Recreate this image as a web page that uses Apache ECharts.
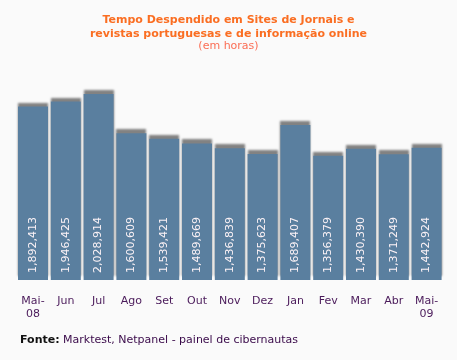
<!DOCTYPE html>
<html><head><meta charset="utf-8">
<script src="https://cdn.jsdelivr.net/npm/echarts@6/dist/echarts.min.js"></script>
<style>html,body{margin:0;padding:0;background:#fafafa}#c{width:457px;height:360px}</style>
</head><body><div id="c"></div>
<script>
const categories = ['Mai-\n08','Jun','Jul','Ago','Set','Out','Nov','Dez','Jan','Fev','Mar','Abr','Mai-\n09'];
const values = [1892413,1946425,2028914,1600609,1539421,1489669,1436839,1375623,1689407,1356379,1430390,1371249,1442924];
const titleLines = ['Tempo Despendido em Sites de Jornais e','revistas portuguesas e de informação online'];
const subtitle = '(em horas)';
const source = ['Fonte:', ' Marktest, Netpanel - painel de cibernautas'];

const chart = echarts.init(document.getElementById('c'), null, {renderer:'canvas'});
const fmt = v => v.toString().replace(/\B(?=(\d{3})+(?!\d))/g, ',');
chart.setOption({
  backgroundColor:'#fafafa',
  animation:false,
  title:{
    left:'center', top:8, itemGap:-1,
    text: titleLines.join('\n'),
    textStyle:{fontFamily:'DejaVu Sans', fontSize:11, fontWeight:'bold', color:'#fa6e22', lineHeight:14},
    subtext: subtitle,
    subtextStyle:{fontFamily:'DejaVu Sans', fontSize:11, color:'#fb6e55', lineHeight:13}
  },
  grid:{left:16.6, right:14, top:78.3, bottom:80, containLabel:false},
  xAxis:{type:'category', data:categories,
    axisLine:{show:false}, axisTick:{show:false},
    axisLabel:{fontFamily:'DejaVu Sans', fontSize:11, color:'#4a1a5a', margin:15, lineHeight:13, interval:0}},
  yAxis:{type:'value', min:0, max:2200000, show:false, splitLine:{show:false}},
  series:[{type:'bar', data:values, barWidth:30,
    itemStyle:{color:'#5a7f9f', shadowColor:'rgba(100,100,100,0.8)', shadowBlur:2, shadowOffsetY:-4},
    label:{show:true, position:'insideBottom', distance:7, rotate:90, align:'left', verticalAlign:'middle', offset:[0,0],
      fontFamily:'DejaVu Sans', fontSize:11, color:'#fbf2f6', formatter:p=>fmt(p.value)}}],
  graphic:[{type:'text', left:20, top:335, style:{
    text:'{b|'+source[0]+'}{n|'+source[1]+'}',
    rich:{b:{fontFamily:'DejaVu Sans', fontSize:11, fontWeight:'bold', fill:'#111'},
          n:{fontFamily:'DejaVu Sans', fontSize:11, fill:'#3a0a4a'}}}}]
});
</script></body></html>
